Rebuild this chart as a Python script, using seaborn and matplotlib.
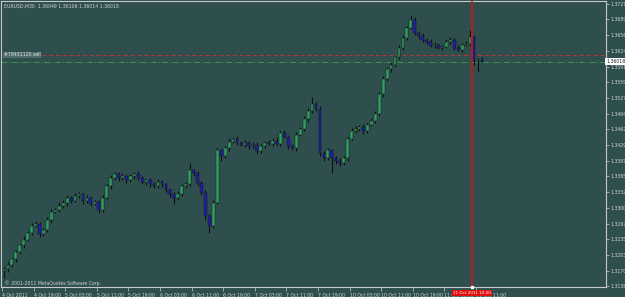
import matplotlib
matplotlib.use("Agg")
import matplotlib.pyplot as plt
import matplotlib.transforms as mtransforms
import numpy as np
import pandas as pd
import seaborn as sns

# ---------------- data ----------------
symbol_info = "EURUSD,M30  1.36049 1.36106 1.36014 1.36018"
first_open = 1.31700
closes = [
    1.31727, 1.31809, 1.31931, 1.32075, 1.32218, 1.32341, 1.32484, 1.32627, 1.32668, 1.32463,
    1.32545, 1.32750, 1.32914, 1.32954, 1.33036, 1.33098, 1.33200, 1.33139, 1.33241, 1.33282,
    1.33139, 1.33200, 1.33077, 1.33118, 1.32954, 1.33200, 1.33446, 1.33609, 1.33691, 1.33609,
    1.33650, 1.33568, 1.33650, 1.33691, 1.33609, 1.33527, 1.33568, 1.33486, 1.33446, 1.33527,
    1.33486, 1.33364, 1.33282, 1.33200, 1.33282, 1.33446, 1.33486, 1.33773, 1.33711, 1.33507,
    1.33302, 1.32832, 1.32627, 1.33098, 1.34182, 1.34059, 1.34223, 1.34366, 1.34428, 1.34346,
    1.34305, 1.34346, 1.34264, 1.34305, 1.34162, 1.34284, 1.34346, 1.34325, 1.34387, 1.34325,
    1.34550, 1.34469, 1.34264, 1.34223, 1.34509, 1.34632, 1.34837, 1.35000, 1.35144, 1.35041,
    1.34121, 1.34018, 1.34182, 1.34018, 1.33957, 1.33916, 1.34018, 1.34428, 1.34591, 1.34632,
    1.34673, 1.34591, 1.34714, 1.34796, 1.34939, 1.35348, 1.35655, 1.35860, 1.35942, 1.36105,
    1.36310, 1.36515, 1.36719, 1.36883, 1.36617, 1.36555, 1.36474, 1.36433, 1.36351, 1.36371,
    1.36310, 1.36330, 1.36433, 1.36474, 1.36310, 1.36269, 1.36371, 1.36392, 1.36535, 1.36023,
    1.36049, 1.36018,
]
upper_pips = [
    4, 6, 3, 5, 4, 7, 3, 5, 6, 4,
    3, 5, 6, 4, 8, 5, 6, 4, 7, 5,
    3, 6, 4, 5, 3, 6, 5, 7, 4, 5,
    6, 3, 5, 4, 6, 5, 3, 4, 5, 6,
    4, 3, 5, 4, 6, 5, 4, 14, 3, 5,
    4, 6, 3, 5, 6, 4, 5, 7, 4, 6,
    3, 5, 4, 6, 5, 4, 3, 6, 5, 7,
    4, 5, 3, 6, 5, 4, 6, 5, 14, 3,
    6, 4, 5, 3, 4, 6, 5, 4, 5, 6,
    3, 5, 4, 6, 5, 4, 7, 5, 6, 4,
    5, 6, 4, 10, 6, 3, 5, 4, 6, 5,
    3, 4, 6, 5, 4, 5, 4, 6, 14, 4,
    5, 5.7,
]
lower_pips = [
    16, 5, 4, 6, 3, 5, 4, 6, 3, 8,
    5, 4, 6, 3, 5, 4, 6, 5, 3, 4,
    6, 5, 4, 3, 7, 5, 4, 6, 3, 5,
    4, 6, 3, 5, 4, 3, 6, 5, 4, 3,
    5, 4, 6, 12, 4, 5, 3, 4, 6, 5,
    4, 8, 16, 5, 3, 10, 4, 5, 3, 6,
    4, 5, 6, 3, 5, 4, 6, 3, 5, 4,
    5, 3, 6, 4, 5, 3, 4, 6, 4, 5,
    6, 5, 4, 30, 5, 6, 4, 5, 3, 4,
    5, 6, 4, 3, 5, 4, 6, 3, 5, 4,
    3, 5, 4, 3, 5, 6, 4, 5, 3, 6,
    4, 5, 3, 6, 5, 4, 6, 3, 4, 8,
    22, 0.4,
]
time_labels = ["4 Oct 2011", "4 Oct 19:00", "5 Oct 03:00", "5 Oct 11:00", "5 Oct 19:00",
               "6 Oct 03:00", "6 Oct 11:00", "6 Oct 19:00", "7 Oct 03:00", "7 Oct 11:00",
               "7 Oct 19:00", "10 Oct 03:00", "10 Oct 11:00", "10 Oct 19:00", "11 Oct 03:00",
               "11 Oct 11:00"]
price_ticks = [1.37210, 1.36890, 1.36560, 1.36240, 1.35910, 1.35590, 1.35270, 1.34940,
               1.34620, 1.34290, 1.33970, 1.33650, 1.33320, 1.33000, 1.32670, 1.32350,
               1.32030, 1.31700, 1.31380]
current_price = 1.36018
order_price = 1.36156
order_label = "#78431120 sell"
vline_bar = 118.5
vline_label = "11 Oct 2011 10:00"
copyright_text = "\u00a9 2001-2011 MetaQuotes Software Corp."

# ---------------- style ----------------
BG = "#2F4F4F"
FG = "#D4D4D4"
BULL = "#2FA060"
BEAR = "#2020A0"
sns.set_theme(style="dark", rc={"axes.facecolor": BG, "figure.facecolor": BG,
                                "axes.edgecolor": "#C8C8C8", "axes.grid": False})
plt.rcParams["font.family"] = ["DejaVu Sans"]
FS = 3.3

n = len(closes)
opens = [first_open] + closes[:-1]
df = pd.DataFrame({"bar": np.arange(n), "open": opens, "close": closes,
                   "up": upper_pips, "dn": lower_pips})
df["high"] = df[["open", "close"]].max(axis=1) + df["up"] * 0.0001
df["low"] = df[["open", "close"]].min(axis=1) - df["dn"] * 0.0001
df["bottom"] = df[["open", "close"]].min(axis=1)
df["height"] = (df["close"] - df["open"]).abs().clip(lower=0.00004)
df["color"] = np.where(df["close"] >= df["open"], BULL, BEAR)

W, H = 625, 297
fig = plt.figure(figsize=(W / 100, H / 100), dpi=100)
ax = fig.add_axes([1 / W, (H - 287) / H, 605 / W, 286 / H])

px_per_bar = 3.95
xl = -0.753
ax.set_xlim(xl, xl + 605 / px_per_bar)
pp = 0.00020674  # price per pixel
ax.set_ylim(1.37210 - 283 * pp, 1.37210 + 3 * pp)

# candles
ax.vlines(df["bar"], df["low"], df["high"], color="#101010", lw=0.8, zorder=2)
ax.bar(df["bar"], df["height"], bottom=df["bottom"], width=0.72,
       color=df["color"], edgecolor="#101010", linewidth=0.3, zorder=3)

# order / bid lines
ax.axhline(order_price, color="#C83232", lw=0.7, ls=(0, (4, 3)), zorder=1)
ax.axhline(current_price, color="#3C9A4A", lw=0.7, ls=(0, (6, 2, 1, 2)), zorder=1)
ax.text(4, order_price, order_label, transform=mtransforms.blended_transform_factory(
    mtransforms.IdentityTransform(), ax.transData), fontsize=FS, color="#E8E8E8",
    va="center", ha="left", zorder=5,
    bbox=dict(boxstyle="square,pad=0.15", fc="#4E6A6A", ec="none"))

# vertical red line
ax.axvline(vline_bar, color="#E01010", lw=1.1, zorder=4)
ax.plot([vline_bar], [ax.get_ylim()[0]], marker="s", ms=1.6, color="white",
        clip_on=False, zorder=6)

# axes styling
for s in ax.spines.values():
    s.set_color("#C8C8C8")
    s.set_linewidth(0.8)
ax.yaxis.tick_right()
ax.set_yticks(price_ticks)
ax.set_yticklabels([f"{p:.5f}" for p in price_ticks])
ax.set_xticks([8 * k - 0.5 for k in range(len(time_labels))])
ax.set_xticklabels(time_labels, ha="left")
ax.tick_params(axis="y", which="both", right=True, left=False, length=2, width=0.5,
               color="#C8C8C8", labelsize=FS, labelcolor=FG, pad=1.5)
ax.tick_params(axis="x", which="both", bottom=True, length=3, width=0.5,
               color="#C8C8C8", labelsize=FS, labelcolor=FG, pad=1.0)
ax.set_xlabel("")
ax.set_ylabel("")

# current price box on the price scale
ax.text(1.0, current_price, f"{current_price:.5f}",
        transform=mtransforms.blended_transform_factory(ax.transAxes, ax.transData),
        fontsize=FS, color="#202020", va="center", ha="left", clip_on=False, zorder=7,
        bbox=dict(boxstyle="square,pad=0.25", fc="white", ec="none"))

# header and copyright
fig.text(4 / W, 1 - 6 / H, symbol_info, fontsize=FS, color=FG, ha="left", va="center")
fig.text(5 / W, 1 - 283 / H, copyright_text, fontsize=FS, color=FG, ha="left", va="center")

# red time box on the time scale
fig.text(472 / W, 1 - 293 / H, vline_label, fontsize=3.0, color="white",
         ha="center", va="center", zorder=10,
         bbox=dict(boxstyle="square,pad=0.3", fc="#E01010", ec="none"))

fig.savefig("out.png", dpi=100, facecolor=BG)
